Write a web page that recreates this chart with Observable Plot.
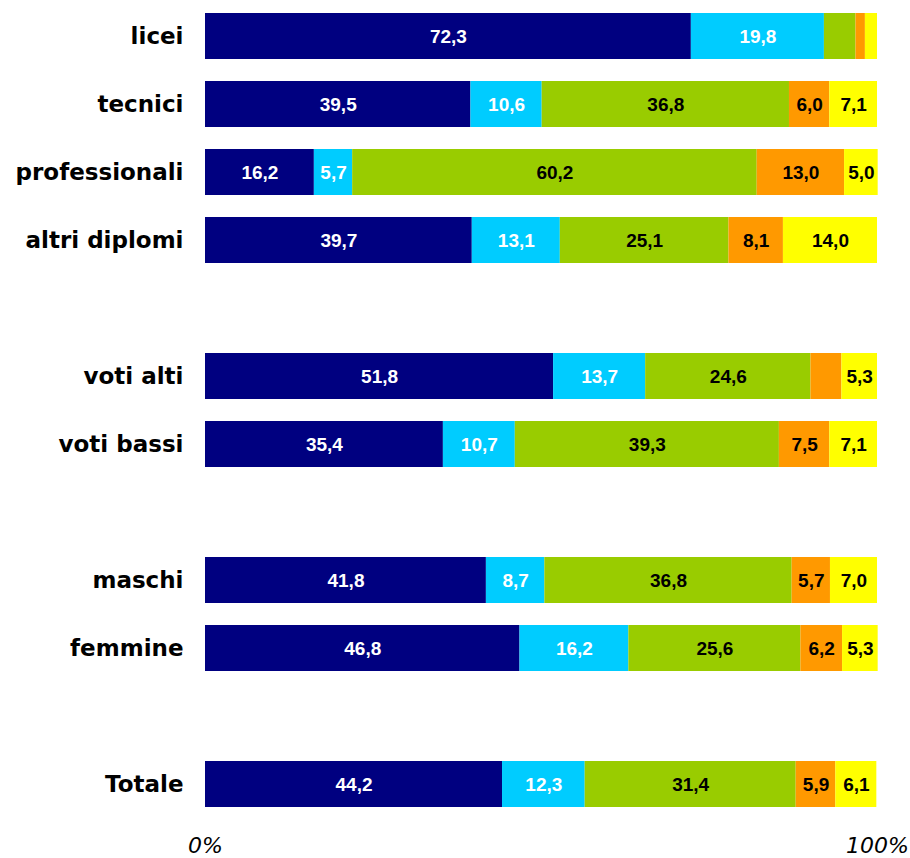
<!DOCTYPE html>
<html>
<head>
<meta charset="utf-8">
<script src="https://cdn.jsdelivr.net/npm/d3@7"></script>
<script src="https://cdn.jsdelivr.net/npm/@observablehq/plot@0.6"></script>
<style>
  html, body { margin: 0; padding: 0; background: #fff; }
</style>
</head>
<body>
<div id="chart"></div>
<script>
// Categories (top to bottom); gap markers separate the groups
const categories = ["licei", "tecnici", "professionali", "altri diplomi", "voti alti", "voti bassi", "maschi", "femmine", "Totale"];
const rowOrder = ["licei", "tecnici", "professionali", "altri diplomi", "gap1", "voti alti", "voti bassi", "gap2", "maschi", "femmine", "gap3", "Totale"];

// Series values (percent)
const series1 = [72.3, 39.5, 16.2, 39.7, 51.8, 35.4, 41.8, 46.8, 44.2];
const series2 = [19.8, 10.6, 5.7, 13.1, 13.7, 10.7, 8.7, 16.2, 12.3];
const series3 = [4.7, 36.8, 60.2, 25.1, 24.6, 39.3, 36.8, 25.6, 31.4];
const series4 = [1.4, 6.0, 13.0, 8.1, 4.6, 7.5, 5.7, 6.2, 5.9];
const series5 = [1.8, 7.1, 5.0, 14.0, 5.3, 7.1, 7.0, 5.3, 6.1];

const seriesNames = ["s1", "s2", "s3", "s4", "s5"];
const seriesColors = ["#000080", "#00CCFF", "#99CC00", "#FF9900", "#FFFF00"];
const xTicks = [0, 100];

const allSeries = [series1, series2, series3, series4, series5];
const data = [];
allSeries.forEach((vals, si) => {
  vals.forEach((v, ci) => {
    data.push({cat: categories[ci], series: seriesNames[si], si, value: v});
  });
});

const fmt = v => v.toFixed(1).replace(".", ",");

const chart = Plot.plot({
  width: 910,
  height: 858,
  marginLeft: 205,
  marginRight: 33,
  marginTop: 6,
  marginBottom: 44,
  style: {fontFamily: "'Liberation Sans', Arial, sans-serif", background: "#fff"},
  x: {domain: [0, 100], axis: null},
  y: {domain: rowOrder, paddingInner: 0.32, paddingOuter: 0.1, axis: null},
  color: {domain: seriesNames, range: seriesColors},
  marks: [
    Plot.barX(data, Plot.stackX({x: "value", y: "cat", z: "series", fill: "series"})),
    Plot.text(data, Plot.stackX({
      x: "value", y: "cat", z: "series",
      text: d => (d.si < 2 && d.value >= 5) ? fmt(d.value) : null,
      fill: "white", fontWeight: "bold", fontSize: 19
    })),
    Plot.text(data, Plot.stackX({
      x: "value", y: "cat", z: "series",
      text: d => (d.si >= 2 && d.value >= 5) ? fmt(d.value) : null,
      fill: "black", fontWeight: "bold", fontSize: 19
    })),
    Plot.axisY({
      tickSize: 0, tickPadding: 22,
      tickFormat: d => d.startsWith("gap") ? "" : d,
      fontSize: 23, fontWeight: "bold", fontFamily: "'DejaVu Sans', Verdana, sans-serif",
      fill: "black", label: null
    }),
    Plot.axisX(xTicks, {
      anchor: "bottom", tickSize: 0, tickPadding: 23,
      tickFormat: d => d + "%",
      fontSize: 22, fontStyle: "italic", fontFamily: "'DejaVu Sans', Verdana, sans-serif",
      fill: "black", label: null
    })
  ]
});

document.getElementById("chart").appendChild(chart);
</script>
</body>
</html>
